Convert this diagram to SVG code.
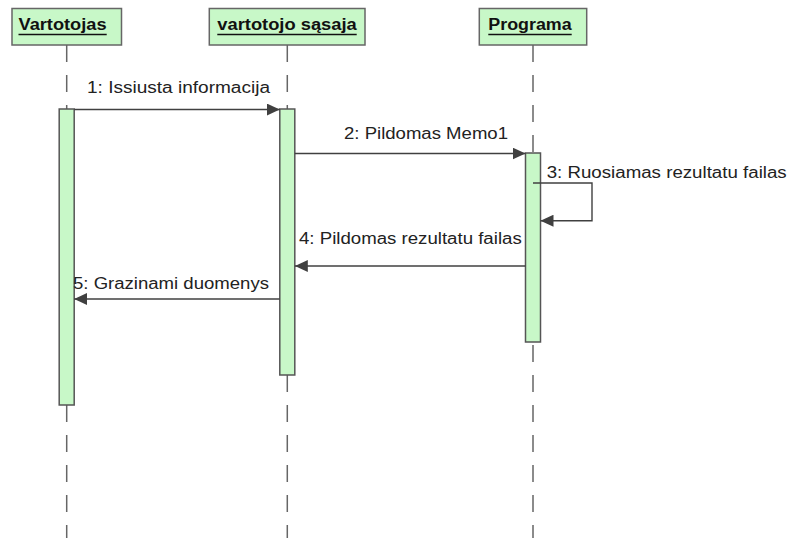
<svg xmlns="http://www.w3.org/2000/svg" width="791" height="538" viewBox="0 0 791 538">
  <style>
    .head { fill: #c8f8c8; stroke: #666666; stroke-width: 1.5; }
    .bar { fill: #c8f8c8; stroke: #555555; stroke-width: 1.5; }
    .life { stroke: #666666; stroke-width: 1.5; stroke-dasharray: 17 13; fill: none; }
    .msg { stroke: #404040; stroke-width: 1.4; fill: none; }
    .htxt { font-family: "Liberation Sans", Arial, sans-serif; font-weight: bold; font-size: 16px; fill: #111111; }
    .uline { stroke: #111111; stroke-width: 1.4; }
    .ltxt { font-family: "Liberation Sans", Arial, sans-serif; font-size: 16px; fill: #222222; }
  </style>
  <defs>
    <marker id="arrow" markerUnits="userSpaceOnUse" markerWidth="13" markerHeight="12" refX="13" refY="6" orient="auto">
      <path d="M0,0 L13,6 L0,12 z" fill="#404040"/>
    </marker>
  </defs>
  <rect width="791" height="538" fill="#ffffff"/>

  <!-- lifelines -->
  <g id="lifelines">
    <line class="life" x1="66.7" y1="45" x2="66.7" y2="538"/>
    <line class="life" x1="287.3" y1="45" x2="287.3" y2="538"/>
    <line class="life" x1="533" y1="45" x2="533" y2="538"/>
  </g>

  <!-- participant: Vartotojas -->
  <g id="vartotojas">
    <rect class="head" x="12" y="8.5" width="109.5" height="36.5"/>
    <text class="htxt" x="18.5" y="29.5" textLength="88" lengthAdjust="spacingAndGlyphs">Vartotojas</text>
    <line class="uline" x1="18.5" y1="34.5" x2="106.7" y2="34.5"/>
    <rect class="bar" x="59.2" y="109" width="15" height="296"/>
  </g>

  <!-- participant: vartotojo sąsaja -->
  <g id="sasaja">
    <rect class="head" x="209.3" y="8.5" width="155.7" height="36.5"/>
    <text class="htxt" x="217.3" y="29.5" textLength="139.4" lengthAdjust="spacingAndGlyphs">vartotojo sąsaja</text>
    <line class="uline" x1="217.3" y1="34.5" x2="356.7" y2="34.5"/>
    <rect class="bar" x="279.8" y="109" width="15" height="266"/>
  </g>

  <!-- participant: Programa -->
  <g id="programa">
    <rect class="head" x="479.3" y="8.5" width="107.4" height="36.5"/>
    <text class="htxt" x="488.3" y="29.5" textLength="83.4" lengthAdjust="spacingAndGlyphs">Programa</text>
    <line class="uline" x1="488.3" y1="34.5" x2="571.7" y2="34.5"/>
    <rect class="bar" x="525.5" y="153" width="15" height="189"/>
  </g>

  <!-- messages -->
  <g id="connectors">
    <line class="msg" x1="74.2" y1="109.5" x2="279.8" y2="109.5" marker-end="url(#arrow)"/>
    <line class="msg" x1="294.8" y1="153.5" x2="525.5" y2="153.5" marker-end="url(#arrow)"/>
    <polyline class="msg" points="533,183 592,183 592,220.7 540.5,220.7" marker-end="url(#arrow)"/>
    <line class="msg" x1="525.5" y1="266" x2="294.8" y2="266" marker-end="url(#arrow)"/>
    <line class="msg" x1="279.8" y1="299" x2="74.2" y2="299" marker-end="url(#arrow)"/>
  </g>

  <!-- message labels -->
  <g id="labels">
    <text class="ltxt" x="87" y="93" textLength="183" lengthAdjust="spacingAndGlyphs">1: Issiusta informacija</text>
    <text class="ltxt" x="344" y="139" textLength="164" lengthAdjust="spacingAndGlyphs">2: Pildomas Memo1</text>
    <text class="ltxt" x="546.7" y="178.3" textLength="240" lengthAdjust="spacingAndGlyphs">3: Ruosiamas rezultatu failas</text>
    <text class="ltxt" x="299" y="244" textLength="222.7" lengthAdjust="spacingAndGlyphs">4: Pildomas rezultatu failas</text>
    <text class="ltxt" x="73" y="289" textLength="196" lengthAdjust="spacingAndGlyphs">5: Grazinami duomenys</text>
  </g>
</svg>
